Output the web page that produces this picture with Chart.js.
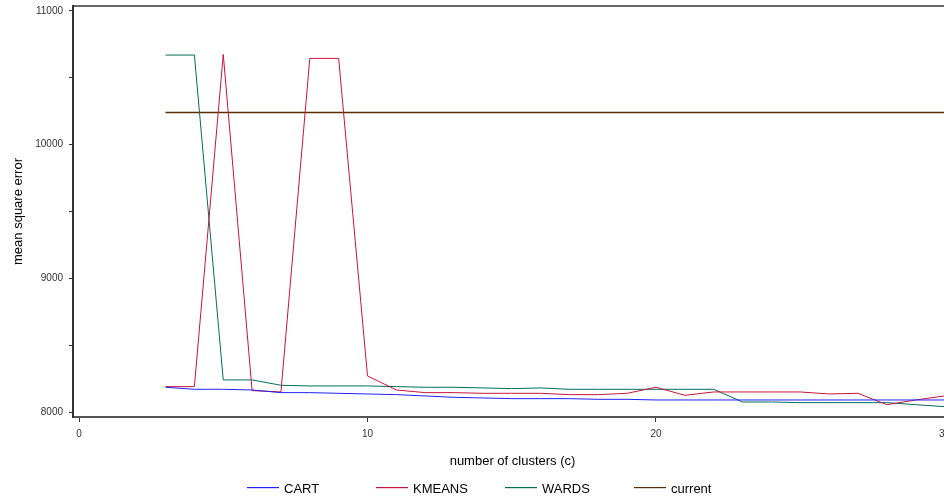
<!DOCTYPE html>
<html>
<head>
<meta charset="utf-8">
<script src="https://cdn.jsdelivr.net/npm/chart.js@4.4.0/dist/chart.umd.min.js"></script>
<style>
  html, body { margin: 0; padding: 0; overflow: hidden; background: #fff; }
  #wrap { position: absolute; left: 0; top: 0; width: 960px; height: 500px; }
</style>
</head>
<body>
<div id="wrap"><canvas id="mseChart" width="960" height="500"></canvas></div>
<script>
// Dữ liệu
const clusters = [3, 4, 5, 6, 7, 8, 9, 10, 11, 12, 13, 14, 15, 16, 17, 18, 19, 20, 21, 22, 23, 24, 25, 26, 27, 28, 29, 30];
const cartMse = [8185, 8170, 8170, 8165, 8145, 8145, 8140, 8135, 8130, 8120, 8110, 8105, 8100, 8100, 8100, 8095, 8095, 8090, 8090, 8090, 8090, 8090, 8090, 8090, 8090, 8090, 8090, 8090];
const kmeansMse = [8190, 8190, 10675, 8160, 8150, 10645, 10645, 8270, 8165, 8145, 8145, 8140, 8140, 8140, 8130, 8130, 8140, 8185, 8125, 8150, 8150, 8150, 8150, 8135, 8140, 8055, 8090, 8120];
const wardsMse = [10670, 10670, 8240, 8240, 8200, 8195, 8195, 8195, 8190, 8185, 8185, 8180, 8175, 8180, 8170, 8170, 8170, 8170, 8170, 8170, 8075, 8075, 8070, 8070, 8070, 8070, 8055, 8040];
const currentMse = [10240, 10240, 10240, 10240, 10240, 10240, 10240, 10240, 10240, 10240, 10240, 10240, 10240, 10240, 10240, 10240, 10240, 10240, 10240, 10240, 10240, 10240, 10240, 10240, 10240, 10240, 10240, 10240];
const xTicks = [0, 10, 20, 30];
const yTicks = [8000, 8500, 9000, 9500, 10000, 10500, 11000];

const seriesNames = ['CART', 'KMEANS', 'WARDS', 'current'];
const seriesColors = ['#2020ff', '#c8143c', '#006e5a', '#5a2d00'];
const seriesValues = [cartMse, kmeansMse, wardsMse, currentMse];

const fontFamily = '"Liberation Sans", Arial, sans-serif';

// Viền trên và chú thích (các mục cách đều nhau)
const frameAndLegend = {
    id: 'frameAndLegend',
    afterDraw(chart) {
        const a = chart.chartArea;
        const ctx = chart.ctx;
        ctx.save();
        ctx.strokeStyle = '#333';
        ctx.lineWidth = 1.5;
        ctx.beginPath();
        ctx.moveTo(a.left, a.top);
        ctx.lineTo(a.right, a.top);
        ctx.stroke();

        const startX = 247, itemW = 129, lineY = 487;
        ctx.font = '13px ' + fontFamily;
        ctx.textBaseline = 'middle';
        chart.data.datasets.forEach((ds, i) => {
            const x = startX + i * itemW;
            ctx.fillStyle = seriesColors[i];
            ctx.fillRect(x, lineY, 32, 1.2);
            ctx.fillStyle = '#000';
            ctx.fillText(ds.label, x + 37, lineY + 2);
        });
        ctx.restore();
    }
};

const ctx = document.getElementById('mseChart').getContext('2d');
const chart = new Chart(ctx, {
    type: 'line',
    data: {
        datasets: seriesNames.map((name, i) => ({
            label: name,
            data: clusters.map((c, j) => ({ x: c, y: seriesValues[i][j] })),
            borderColor: seriesColors[i],
            borderWidth: i === 3 ? 1.5 : 1,
            pointRadius: 0,
            tension: 0,
            fill: false
        }))
    },
    options: {
        responsive: false,
        animation: false,
        layout: { padding: { left: 0, right: 8, top: 6, bottom: 28 } },
        plugins: {
            legend: { display: false },
            tooltip: { enabled: false }
        },
        scales: {
            x: {
                type: 'linear',
                min: -0.208,
                max: 30.26,
                afterBuildTicks: (scale) => { scale.ticks = xTicks.map(v => ({ value: v })); },
                afterFit: (scale) => { scale.height = 55; scale.paddingLeft = 0; scale.paddingRight = 0; },
                grid: { drawOnChartArea: false, tickLength: 5, color: '#333', tickWidth: 1 },
                border: { color: '#555', width: 2 },
                ticks: { padding: 6, color: '#333', font: { family: fontFamily, size: 10 }, maxRotation: 0 },
                title: { display: true, text: 'number of clusters (c)', color: '#000', font: { family: fontFamily, size: 13 }, padding: { top: 0, bottom: 3 } }
            },
            y: {
                min: 7962.7,
                max: 11037,
                afterBuildTicks: (scale) => { scale.ticks = yTicks.map(v => ({ value: v })); },
                afterFit: (scale) => { scale.width = 73; scale.paddingTop = 0; scale.paddingBottom = 0; },
                grid: { drawOnChartArea: false, tickLength: 4, color: '#333', tickWidth: 1 },
                border: { color: '#333', width: 2 },
                ticks: {
                    padding: 6,
                    color: '#333',
                    font: { family: fontFamily, size: 10 },
                    callback: (v) => (v % 1000 === 0 ? String(v) : '')
                },
                title: { display: true, text: 'mean square error', color: '#000', font: { family: fontFamily, size: 13 }, padding: { top: 11, bottom: 0 } }
            }
        }
    },
    plugins: [frameAndLegend]
});
</script>
</body>
</html>
